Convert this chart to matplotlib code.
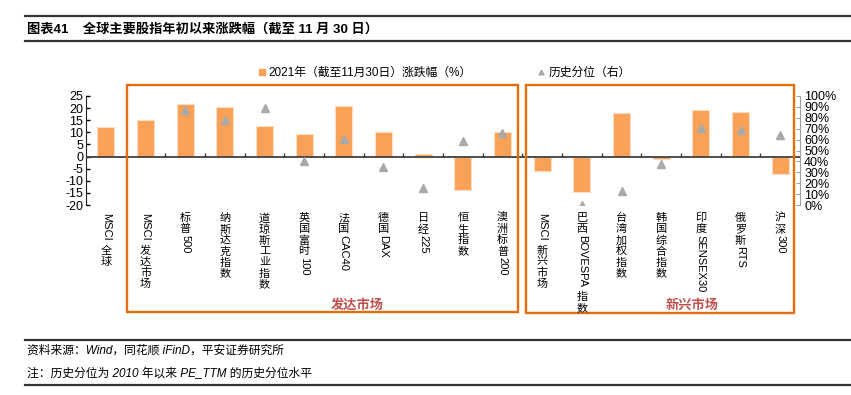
import numpy as np
import matplotlib
matplotlib.use("Agg")
import matplotlib.pyplot as plt
from matplotlib.lines import Line2D
from matplotlib.patches import Rectangle

plt.rcParams['font.family'] = ['Liberation Sans', 'Noto Sans CJK SC']
plt.rcParams['axes.unicode_minus'] = False

# data
cats = ['MSCI 全球', 'MSCI 发达市场', '标普500', '纳斯达克指数', '道琼斯工业指数',
        '英国富时100', '法国CAC40', '德国DAX', '日经225', '恒生指数', '澳洲标普200',
        'MSCI 新兴市场', '巴西BOVESPA 指数', '台湾加权指数', '韩国综合指数',
        '印度SENSEX30', '俄罗斯RTS', '沪深300']
ytd = [12.0, 15.0, 21.6, 20.6, 12.7, 9.3, 21.0, 10.1, 1.2, -13.7, 10.0,
       -6.1, -14.6, 17.9, -1.2, 19.4, 18.4, -7.2]
pct = [np.nan, np.nan, 87, 78, 89, 40, 61, 35, 16, 59, 66.5,
       np.nan, 0, 13, 38, 71, 69, 64.5]
left_ticks = list(range(-20, 30, 5))
right_ticks = list(range(0, 110, 10))

W, H = 851, 395
fig = plt.figure(figsize=(W / 100, H / 100), dpi=100)


def fx(x):
    return x / W


def fy(y):
    return 1 - y / H


ax = fig.add_axes([fx(86), fy(205), fx(800) - fx(86), fy(96) - fy(205)])
x = np.arange(len(cats))
ax.bar(x, ytd, width=0.43, color='#F9A157', edgecolor='#FDDCBF', linewidth=0.8, zorder=2)
ax.axhline(0, color='#404040', lw=1.3, zorder=3)
ax.vlines(np.arange(0.5, len(cats) - 1, 1), 0, 1.6, color='#404040', lw=1.0, zorder=3)
ax.set_xlim(-0.5, len(cats) - 0.5)
ax.set_ylim(-20, 25)
ax.set_yticks(left_ticks)
ax.set_xticks([])
ax.tick_params(axis='y', direction='in', length=3, labelsize=9, pad=2, width=1)
for s in ['top', 'bottom', 'right']:
    ax.spines[s].set_visible(False)
ax.spines['left'].set_color('#202020')

ax2 = ax.twinx()
ax2.plot(x, pct, linestyle='none', marker='^', markersize=5.5, color='#A9A9A9', zorder=4)
ax2.set_ylim(0, 100)
ax2.set_yticks(right_ticks)
ax2.set_yticklabels([f'{t}%' for t in right_ticks])
ax2.tick_params(axis='y', direction='in', length=3, labelsize=9, pad=3, color='#A0A0A0')
for s in ['top', 'bottom', 'left']:
    ax2.spines[s].set_visible(False)
ax2.spines['right'].set_color('#A0A0A0')

# vertical category labels: CJK upright, latin runs turned
renderer = fig.canvas.get_renderer()
fs = 8
em = fs * 100 / 72


def is_cjk(ch):
    return ord(ch) > 0x2E80


def vlabel(xp, ytop, s):
    runs = []
    buf = ''
    for ch in s:
        if is_cjk(ch):
            if buf:
                runs.append(buf)
                buf = ''
            runs.append(ch)
        else:
            buf += ch
    if buf:
        runs.append(buf)
    y = ytop
    for r in runs:
        if is_cjk(r[0]):
            fig.text(fx(xp), fy(y), r, ha='center', va='top', fontsize=fs)
            y += em * 1.0
        else:
            txt = r.strip()
            t = fig.text(fx(xp), fy(y), txt, ha='center', va='top', fontsize=fs, rotation=-90)
            h = t.get_window_extent(renderer=renderer).height
            y += h + 1
            if r.endswith(' '):
                y += em * 0.35


for i, c in enumerate(cats):
    xp = ax.transData.transform((i, 0))[0]
    vlabel(xp, 213, c)

# group boxes
fig.add_artist(Rectangle((fx(127.5), fy(312)), fx(517.5) - fx(127.5), fy(85) - fy(312),
                         transform=fig.transFigure, fill=False, edgecolor='#E46C0A', lw=1.7))
fig.add_artist(Rectangle((fx(526), fy(313)), fx(794) - fx(526), fy(85) - fy(313),
                         transform=fig.transFigure, fill=False, edgecolor='#E46C0A', lw=1.7))
fig.text(fx(357), fy(305), '发达市场', ha='center', va='center', fontsize=9.5,
         weight='bold', color='#C0504D')
fig.text(fx(692), fy(305), '新兴市场', ha='center', va='center', fontsize=9.5,
         weight='bold', color='#C0504D')

# legend
handles = [Line2D([], [], linestyle='none', marker='s', markersize=5, color='#F9A157'),
           Line2D([], [], linestyle='none', marker='^', markersize=3.5, color='#A9A9A9')]
fig.legend(handles, ['2021年（截至11月30日）涨跌幅（%）', '历史分位（右）'],
           loc='center left', bbox_to_anchor=(fx(258), fy(73)), ncol=2, frameon=False,
           fontsize=8.5, handlelength=0.6, handletextpad=0.3, columnspacing=5.6,
           borderpad=0, borderaxespad=0)

# title and footer
line_kw = dict(color='#333333', lw=1.6, transform=fig.transFigure)
fig.add_artist(Line2D([fx(25), 1], [fy(16), fy(16)], **line_kw))
fig.add_artist(Line2D([fx(25), 1], [fy(41), fy(41)], **line_kw))
fig.text(fx(27), fy(29), '图表41    全球主要股指年初以来涨跌幅（截至 11 月 30 日）',
         ha='left', va='center', fontsize=9.5, weight='bold')

fig.add_artist(Line2D([fx(25), 1], [fy(340), fy(340)], **line_kw))
fig.add_artist(Line2D([fx(25), 1], [fy(385), fy(385)], **line_kw))
fig.text(fx(27), fy(351), '资料来源：Wind，同花顺 iFinD，平安证券研究所',
         ha='left', va='center', fontsize=8.5, style='italic')
fig.text(fx(27), fy(374), '注：历史分位为 2010 年以来 PE_TTM 的历史分位水平',
         ha='left', va='center', fontsize=8.5, style='italic')

fig.savefig('out.png', dpi=100)
